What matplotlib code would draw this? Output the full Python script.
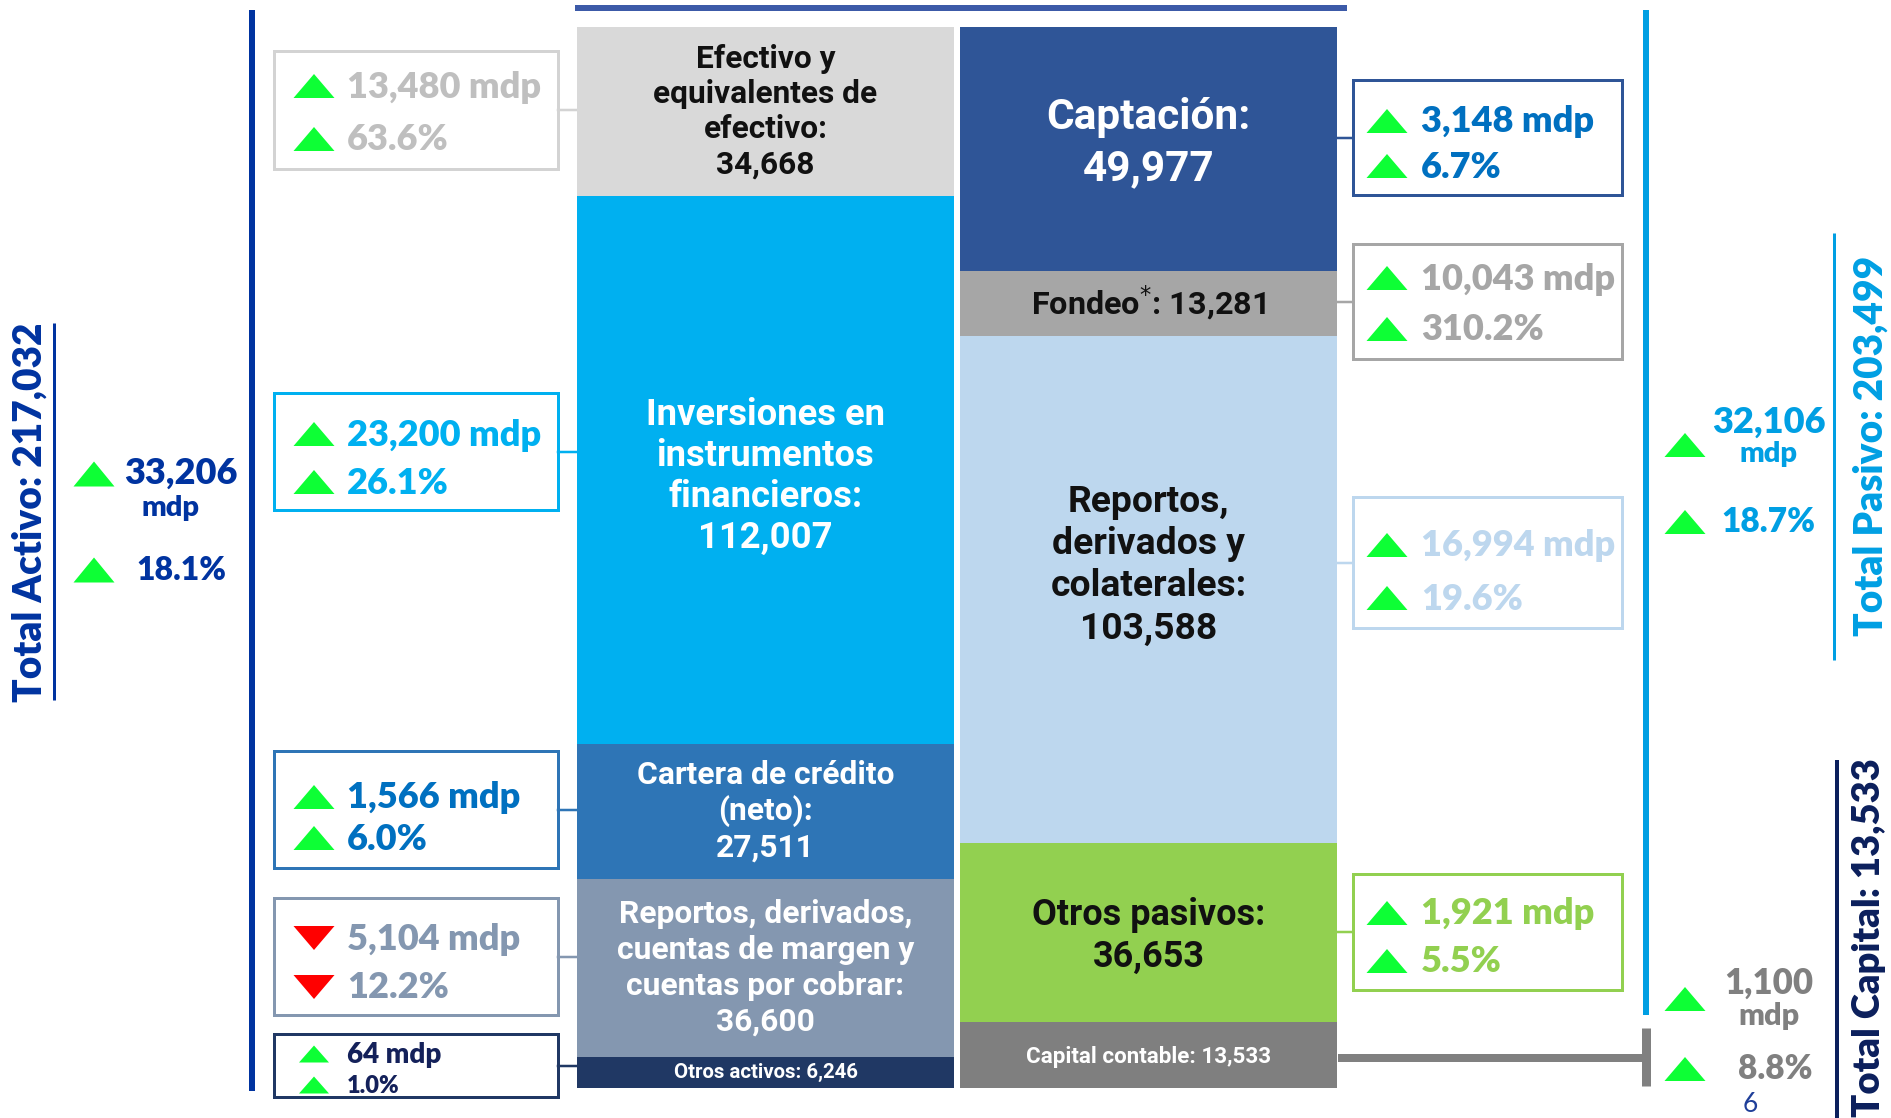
import matplotlib
matplotlib.use("Agg")
import matplotlib.pyplot as plt
from matplotlib.patches import Polygon, Rectangle
from matplotlib import font_manager as fm
import numpy as np

W, H = 1891, 1118
PT = 0.72  # pixels -> points at dpi 100

# ---- data (mdp) ----
activo_text = ["Efectivo y\nequivalentes de\nefectivo:\n{:,}",
               "Inversiones en\ninstrumentos\nfinancieros:\n{:,}",
               "Cartera de crédito\n(neto):\n{:,}",
               "Reportos, derivados,\ncuentas de margen y\ncuentas por cobrar:\n{:,}",
               "Otros activos: {:,}"]
activo_vals = [34668, 112007, 27511, 36600, 6246]
activo_var_mdp = [13480, 23200, 1566, -5104, 64]
activo_var_pct = [63.6, 26.1, 6.0, -12.2, 1.0]

pasivo_text = ["Captación:\n{:,}",
               "Fondeo$^{{*}}$: {:,}",
               "Reportos,\nderivados y\ncolaterales:\n{:,}",
               "Otros pasivos:\n{:,}",
               "Capital contable: {:,}"]
pasivo_vals = [49977, 13281, 103588, 36653, 13533]
pasivo_var_mdp = [3148, 10043, 16994, 1921]
pasivo_var_pct = [6.7, 310.2, 19.6, 5.5]

total_activo = 217032
total_pasivo = 203499
total_capital = 13533
var_activo = [33206, 18.1]
var_pasivo = [32106, 18.7]
var_capital = [1100, 8.8]
page = "6"

# ---- styles ----
activo_colors = ["#D9D9D9", "#00B0F0", "#2E75B6", "#8497B0", "#203864"]
activo_txt = ["#111111", "white", "white", "white", "white"]
activo_size = [22.8, 26.2, 22.9, 22.9, 14.7]
activo_step = [35, 41, 36, 36, 0]
activo_dy = [0, -6, 0, 0, 0]
activo_box_edge = ["#D3D3D3", "#00B0F0", "#2E75B6", "#8497B0", "#203864"]
activo_box_txt = ["#BFBFBF", "#00B0F0", "#0070C0", "#8497B0", "#14215A"]

pasivo_colors = ["#2F5597", "#A6A6A6", "#BDD7EE", "#92D050", "#7F7F7F"]
pasivo_txt = ["white", "#111111", "#111111", "#111111", "white"]
pasivo_size = [30.5, 23.3, 26.8, 25.9, 16.1]
pasivo_step = [52, 0, 42, 42, 0]
pasivo_dy = [6, 0, 24, -4, -2]
pasivo_box_edge = ["#2F5597", "#A6A6A6", "#BDD7EE", "#92D050"]
pasivo_box_txt = ["#0070C0", "#A6A6A6", "#BDD7EE", "#92D050"]

GREEN, RED = "#0DFF35", "#FF0000"
NAVY, CYAN, DARK = "#0033A0", "#009FE3", "#0B1F5C"

names = {f.name for f in fm.fontManager.ttflist}
COND = "Roboto" if "Roboto" in names else "Liberation Sans"
ROUND = "Lato" if "Lato" in names else "DejaVu Sans"
HW = "heavy"

fig = plt.figure(figsize=(W / 100, H / 100), dpi=100)
ov = fig.add_axes([0, 0, 1, 1])
ov.set_xlim(0, W)
ov.set_ylim(H, 0)
ov.axis("off")


def tri(x, y, up=True, w=41, h=24, color=GREEN):
    if up:
        pts = [(x - w / 2, y + h / 2), (x + w / 2, y + h / 2), (x, y - h / 2)]
    else:
        pts = [(x - w / 2, y - h / 2), (x + w / 2, y - h / 2), (x, y + h / 2)]
    ov.add_patch(Polygon(pts, closed=True, color=color, lw=0))


def box(x0, x1, y0, y1, color):
    ov.add_patch(Rectangle((x0, y0), x1 - x0, y1 - y0, fill=False, ec=color, lw=3 * PT))


def label(x, y, s, size, color, ha="center"):
    ov.text(x, y + 3, s, ha=ha, va="center", fontsize=size, fontweight=HW, color=color, family=ROUND)


# ---- stacked columns ----
col_l, col_r, col_t, col_b = 574, 1340, 27, 1088
ax = fig.add_axes([col_l / W, 1 - col_b / H, (col_r - col_l) / W, (col_b - col_t) / H])
ax.set_xlim(-0.5, 1.5)
ax.set_ylim(total_activo, 0)
ax.axis("off")

for xi, vals, cols, texts, tcols, sizes, steps, dys in [
        (0, activo_vals, activo_colors, activo_text, activo_txt, activo_size, activo_step, activo_dy),
        (1, pasivo_vals, pasivo_colors, pasivo_text, pasivo_txt, pasivo_size, pasivo_step, pasivo_dy)]:
    bottoms = np.concatenate([[0], np.cumsum(vals)[:-1]])
    ax.bar([xi] * len(vals), vals, bottom=bottoms, width=0.985, color=cols, lw=0)
    for v, b, t, tc, s, st, dy in zip(vals, bottoms, texts, tcols, sizes, steps, dys):
        lines = t.format(v).split("\n")
        n = len(lines)
        for i, line in enumerate(lines):
            ax.annotate(line, (xi, b + v / 2), xytext=(0, (dy - (i - (n - 1) / 2) * st) * PT),
                        textcoords="offset points", ha="center", va="center",
                        fontsize=s, color=tc, fontweight="bold", family=[COND, "DejaVu Sans"])

# top bar
ov.plot([575, 1347], [8, 8], color="#3C5AA8", lw=6 * PT, solid_capstyle="butt")

# ---- left side ----
ov.plot([252, 252], [10, 1091], color=NAVY, lw=6 * PT, solid_capstyle="butt")
ov.plot([54, 54], [323, 700], color=NAVY, lw=3 * PT, solid_capstyle="butt")
ov.text(30, 512, "Total Activo: {:,}".format(total_activo), rotation=90, ha="center", va="center",
        fontsize=28, fontweight=HW, color=NAVY, family=ROUND)
tri(94, 474, w=41, h=25)
label(181, 470, "{:,}".format(var_activo[0]), 26, NAVY)
label(171, 505, "mdp", 21, NAVY)
tri(94, 570, w=41, h=25)
label(136, 568, "{:.1f}%".format(var_activo[1]), 23, NAVY, ha="left")

left_box_y = [(51, 169), (393, 510), (751, 868), (898, 1015), (1034, 1097)]
left_line_y = [(84, 137), (432, 480), (795, 836), (936, 985), (1052, 1083)]
for i, (m, p) in enumerate(zip(activo_var_mdp, activo_var_pct)):
    y0, y1 = left_box_y[i]
    box(274, 558, y0, y1, activo_box_edge[i])
    ov.plot([558, 576], [(y0 + y1) / 2] * 2, color=activo_box_edge[i], lw=2.5 * PT)
    small = i == 4
    fs = [20, 17] if small else [26, 26]
    tw, th = (30, 17) if small else (41, 24)
    for j, (txt, yy) in enumerate(zip(["{:,} mdp".format(abs(m)), "{:.1f}%".format(abs(p))], left_line_y[i])):
        tri(314, yy + 2, up=m > 0, w=tw, h=th, color=GREEN if m > 0 else RED)
        label(347, yy, txt, fs[j], activo_box_txt[i], ha="left")

# ---- right side ----
right_box_y = [(80, 195), (244, 359), (497, 628), (874, 990)]
right_line_y = [(119, 164), (276, 327), (543, 596), (911, 959)]
for i, (m, p) in enumerate(zip(pasivo_var_mdp, pasivo_var_pct)):
    y0, y1 = right_box_y[i]
    box(1353, 1622, y0, y1, pasivo_box_edge[i])
    ov.plot([1338, 1353], [(y0 + y1) / 2] * 2, color=pasivo_box_edge[i], lw=2.5 * PT)
    for txt, yy in zip(["{:,} mdp".format(m), "{:.1f}%".format(p)], right_line_y[i]):
        tri(1387, yy + 2)
        label(1421, yy, txt, 26, pasivo_box_txt[i], ha="left")

# capital connector
ov.plot([1338, 1646], [1058, 1058], color="#808080", lw=8 * PT, solid_capstyle="butt")
ov.plot([1646, 1646], [1028, 1086], color="#808080", lw=9 * PT, solid_capstyle="butt")

# pasivo bracket
ov.plot([1646, 1646], [10, 1015], color=CYAN, lw=6 * PT, solid_capstyle="butt")
tri(1685, 445)
label(1769, 419, "{:,}".format(var_pasivo[0]), 26, CYAN)
label(1769, 451, "mdp", 21, CYAN)
tri(1685, 522)
label(1768, 519, "{:.1f}%".format(var_pasivo[1]), 24, CYAN)
ov.plot([1834, 1834], [233, 660], color=CYAN, lw=3 * PT, solid_capstyle="butt")
ov.text(1871, 446, "Total Pasivo: {:,}".format(total_pasivo), rotation=90, ha="center", va="center",
        fontsize=28, fontweight=HW, color=CYAN, family=ROUND)

# capital
tri(1685, 999)
label(1769, 980, "{:,}".format(var_capital[0]), 25, "#808080")
label(1769, 1013, "mdp", 22, "#808080")
tri(1685, 1069)
label(1775, 1066, "{:.1f}%".format(var_capital[1]), 24, "#808080")
ov.plot([1837, 1837], [760, 1118], color=DARK, lw=4 * PT, solid_capstyle="butt")
ov.text(1869, 938, "Total Capital: {:,}".format(total_capital), rotation=90, ha="center", va="center",
        fontsize=27.5, fontweight=HW, color=DARK, family=ROUND)
ov.text(1750, 1104, page, ha="center", va="center", fontsize=19, color="#1F3F99", family=ROUND)

fig.savefig("out.png", dpi=100)
